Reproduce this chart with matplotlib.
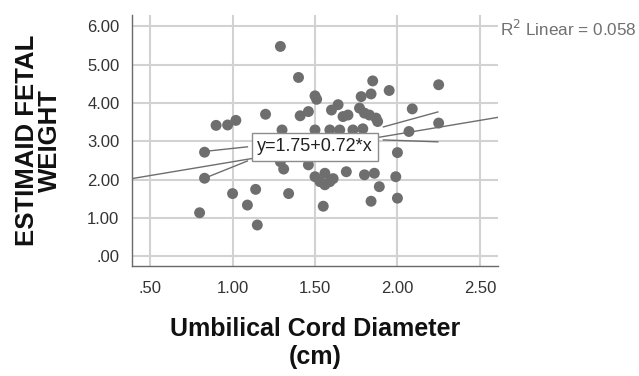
import matplotlib
matplotlib.use("Agg")
import matplotlib.pyplot as plt

plt.rcParams['font.family'] = ['Liberation Sans', 'DejaVu Sans']

# ---- data ----
cord_diameter = [1.29, 1.40, 1.50, 1.51, 1.20, 1.41, 1.46, 0.90, 0.97, 1.02,
                 1.30, 1.50, 1.85, 1.95, 2.25, 1.78, 1.84, 1.60, 1.64, 1.67,
                 1.70, 1.77, 1.80, 1.83, 1.87, 1.88, 2.09, 2.07, 2.25, 1.59,
                 1.65, 1.73, 1.79, 0.83, 0.83, 1.00, 1.14, 1.34, 1.31, 1.46,
                 1.09, 0.80, 1.15, 1.50, 1.53, 1.56, 1.59, 1.55, 1.69, 1.80,
                 1.86, 1.89, 1.84, 2.00, 1.99, 2.00, 1.56, 1.61, 1.29]
fetal_weight = [5.48, 4.67, 4.19, 4.10, 3.71, 3.67, 3.78, 3.42, 3.43, 3.55,
                3.30, 3.30, 4.58, 4.33, 4.48, 4.17, 4.24, 3.82, 3.96, 3.65,
                3.69, 3.87, 3.74, 3.69, 3.61, 3.52, 3.85, 3.26, 3.48, 3.30,
                3.30, 3.30, 3.33, 2.72, 2.04, 1.64, 1.75, 1.64, 2.28, 2.39,
                1.34, 1.14, 0.82, 2.08, 1.95, 1.87, 1.95, 1.31, 2.21, 2.13,
                2.17, 1.82, 1.44, 2.71, 2.08, 1.52, 2.17, 2.03, 2.47]

fit_intercept = 1.75
fit_slope = 0.72
r2_value = 0.058

x_ticks = [0.5, 1.0, 1.5, 2.0, 2.5]
x_tick_labels = [".50", "1.00", "1.50", "2.00", "2.50"]
y_ticks = [0, 1, 2, 3, 4, 5, 6]
y_tick_labels = [".00", "1.00", "2.00", "3.00", "4.00", "5.00", "6.00"]

# leader lines from the equation label (data coords)
leader_lines = [((0.83, 1.09), (2.74, 2.86)),
                ((0.83, 1.09), (2.04, 2.49)),
                ((1.915, 2.245), (3.38, 3.77)),
                ((1.915, 2.245), (3.04, 2.99))]
label_pos = (1.50, 2.86)

x_lim = (0.39, 2.61)
y_lim = (-0.25, 6.30)

# ---- figure ----
fig = plt.figure(figsize=(6.39, 3.76), dpi=100)
ax = fig.add_axes([132/639, 1 - 266/376, 366/639, 251/376])

ax.set_xlim(*x_lim)
ax.set_ylim(*y_lim)

grid_c = '#d2d2d2'
for xt in x_ticks:
    ax.axvline(xt, color=grid_c, lw=1.5, zorder=0)
for yt in y_ticks:
    ax.axhline(yt, color=grid_c, lw=1.5, zorder=0)

ax.scatter(cord_diameter, fetal_weight, s=62, color='#6e6e6e',
           edgecolors='none', zorder=3)

# fit line across the axes
xs = [x_lim[0], x_lim[1]]
ax.plot(xs, [fit_intercept + fit_slope * v for v in xs],
        color='#6e6e6e', lw=1.0, zorder=4)

for lx, ly in leader_lines:
    ax.plot(lx, ly, color='#6e6e6e', lw=1.0, zorder=4)

ax.text(label_pos[0], label_pos[1],
        f"y={fit_intercept:.2f}+{fit_slope:.2f}*x",
        fontsize=13, color='#222222', ha='center', va='center', zorder=6,
        bbox=dict(boxstyle='square,pad=0.3', fc='white', ec='#8c8c8c', lw=1.0))

ax.text(2.621, 5.74, f"R$^2$ Linear = {r2_value:.3f}",
        fontsize=12.3, color='#707070', ha='left', va='baseline',
        clip_on=False)

ax.set_xticks(x_ticks)
ax.set_xticklabels(x_tick_labels)
ax.set_yticks(y_ticks)
ax.set_yticklabels(y_tick_labels)
ax.tick_params(axis='both', length=0, labelsize=12, labelcolor='#333333')
ax.tick_params(axis='x', pad=11)
ax.tick_params(axis='y', pad=9)

for side in ['top', 'right']:
    ax.spines[side].set_visible(False)
for side in ['left', 'bottom']:
    ax.spines[side].set_color('#6a6a6a')
    ax.spines[side].set_linewidth(1.0)

ax.set_xlabel("Umbilical Cord Diameter\n(cm)", fontsize=18, fontweight='bold',
              color='#111111', linespacing=1.2)
ax.xaxis.set_label_coords(0.5, -0.205)
ax.xaxis.label.set_va('top')

ax.set_ylabel("ESTIMAID FETAL\nWEIGHT", fontsize=18.5, fontweight='bold',
              color='#111111', linespacing=0.95)
ax.yaxis.set_label_coords(-0.19, 0.5)

fig.savefig("out.png", dpi=100)
